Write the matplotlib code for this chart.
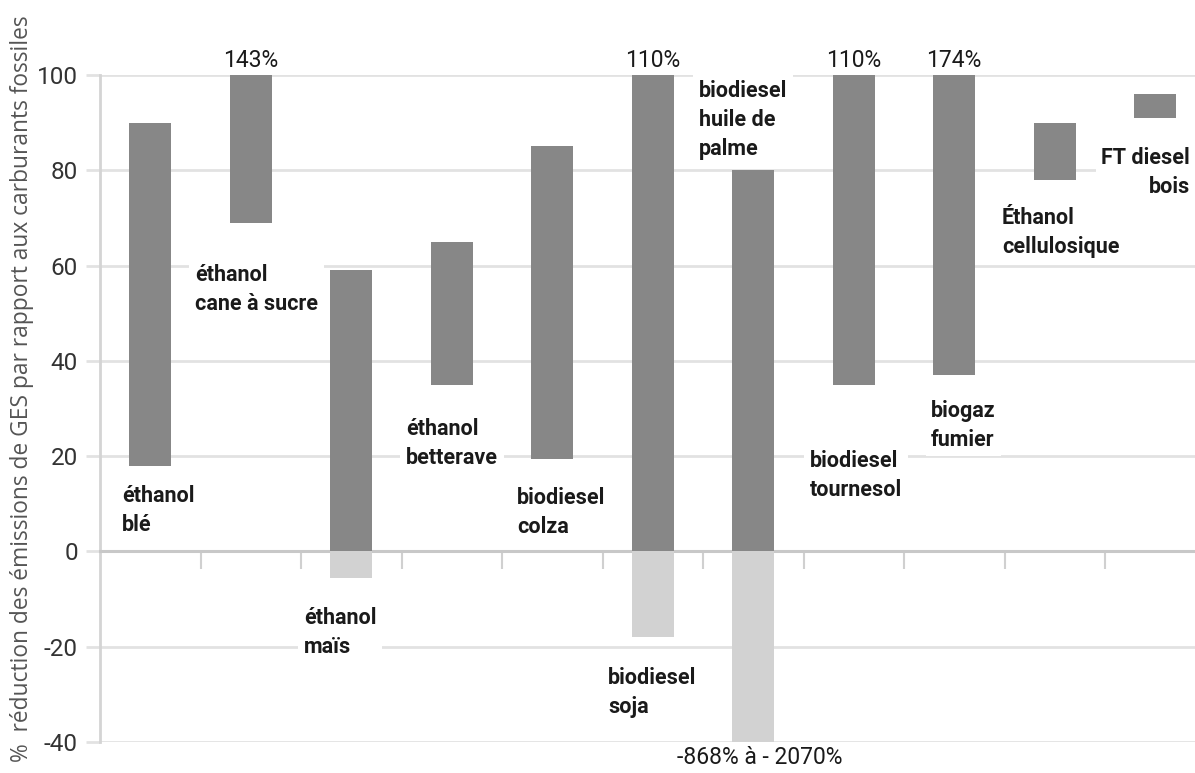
import matplotlib.pyplot as plt
import numpy as np

plt.rcParams['axes.unicode_minus'] = False

# filieres et plage de reduction des emissions de GES (%)
categories = ["éthanol\nblé", "éthanol\ncane à sucre", "éthanol\nmaïs",
              "éthanol\nbetterave", "biodiesel\ncolza", "biodiesel\nsoja",
              "biodiesel\nhuile de\npalme", "biodiesel\ntournesol",
              "biogaz\nfumier", "Éthanol\ncellulosique", "FT diesel\nbois"]
low = [18, 69, -5.5, 35, 19.5, -18, -2070, 35, 37, 78, 91]
high = [90, 143, 59, 65, 85, 110, 80, 110, 174, 90, 96]
low_note = ["", "", "", "", "", "", "-868% à - 2070%", "", "", "", ""]

# emplacement des etiquettes (x, y en unites de donnees)
label_pos = [(-0.28, 8.6), (0.445, 55), (1.53, -17), (2.545, 22.7),
             (3.65, 8.2), (4.555, -29.6), (5.46, 90.5), (6.565, 16),
             (7.77, 26.5), (8.475, 67), (10.345, 79.6)]

fnt = ['Roboto', 'DejaVu Sans']

fig = plt.figure(figsize=(11.95, 7.73), dpi=100)
ax = fig.add_axes([100 / 1195, 31 / 773, 1105.5 / 1195, 667 / 773])

x = np.arange(len(categories))
lo = np.array(low, dtype=float)
hi = np.array(high, dtype=float)

pos_bottom = np.maximum(lo, 0)
ax.bar(x, hi - pos_bottom, bottom=pos_bottom, width=0.42, color='#878787', zorder=3)
neg = lo < 0
ax.bar(x[neg], lo[neg], width=0.42, color='#d2d2d2', zorder=3)

ax.set_xlim(-0.5, 10.5)
ax.set_ylim(-40, 100)
ax.set_yticks(range(-40, 101, 20))
ax.grid(axis='y', color='#e2e2e2', linewidth=2, zorder=0)
ax.set_axisbelow(True)
ax.set_xticks(x[:-1] + 0.5)
ax.set_xticklabels([])

for s in ['top', 'right']:
    ax.spines[s].set_visible(False)
ax.spines['left'].set_color('#d4d4d4')
ax.spines['left'].set_linewidth(2)
ax.spines['bottom'].set_position(('data', 0))
ax.spines['bottom'].set_color('#c8c8c8')
ax.spines['bottom'].set_linewidth(2.2)
ax.spines['bottom'].set_zorder(2.5)
ax.tick_params(axis='x', direction='out', length=13, width=1.5, color='#d0d0d0')
ax.tick_params(axis='y', direction='out', length=10, width=2, color='#e2e2e2',
               labelsize=17.5, labelcolor='#333333', pad=6)
for t in ax.get_yticklabels():
    t.set_family(fnt)

for i, lab in enumerate(categories):
    lx, ly = label_pos[i]
    ha = 'right' if i == len(categories) - 1 else 'left'
    ax.text(lx, ly, lab, ha=ha, va='center', multialignment=ha,
            fontsize=15.5, fontweight='bold', family=fnt, color='#1a1a1a',
            linespacing=1.4, zorder=2,
            bbox=dict(facecolor='white', edgecolor='none', pad=4))
    if hi[i] > 100:
        ax.text(i, 100.6, f"{high[i]:g}%", ha='center', va='bottom',
                fontsize=16.5, family=fnt, color='#1a1a1a')
    if low_note[i]:
        ax.text(i + 0.06, -40.8, low_note[i], ha='center', va='top',
                fontsize=16.5, family=fnt, color='#1a1a1a')

ax.set_ylabel("%  réduction des émissions de GES par rapport aux carburants fossiles",
              fontsize=16.4, family=['Open Sans', 'DejaVu Sans'], color='#555555')
ax.yaxis.set_label_coords(-0.06, 0.53)

fig.savefig('out.png', dpi=100)
